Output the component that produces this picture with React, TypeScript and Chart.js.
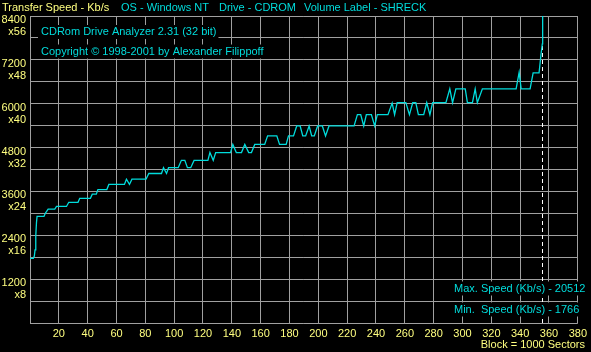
import React, { useEffect, useRef } from 'react';
import { Chart, registerables } from 'chart.js';

Chart.register(...registerables);

// ---- data ----
const blocks = [
  0, 2.3, 3.0, 3.5, 4.0, 4.5, 4.9, 9.7, 10.7, 12.6, 17.2, 18.4, 25.3, 26.9, 33.3, 34.5,
  41.9, 43.2, 46, 47.1, 53.3, 54.7, 65.5, 66.9, 69, 70.7, 80.5, 82.4, 91.2, 92.6, 94.7, 96.1,
  102.8, 105, 107.4, 109.2, 111.5, 113.8, 123.4, 124.8, 127.1, 128.8, 139.1, 140.7, 143.1, 146.7,
  149, 151.7, 153.6, 155.9, 162.8, 164.8, 171.2, 173.1, 177.7, 179.3, 182.8, 185, 187.4, 189.2,
  191.2, 193.6, 195.4, 197.2, 199.5, 202.8, 205, 207.4, 224.8, 227.1, 229.4, 231.5, 233.3, 236.8,
  239.1, 240.9, 248.3, 251.2, 252.9, 254.7, 260.7, 263.2, 265.5, 267.6, 269.4, 273.1, 275.2, 277.4,
  279.3, 288.5, 291.2, 293.1, 295.4, 301.9, 303.4, 306.9, 308.8, 310.3, 313.8, 337.2, 339.3, 340.7,
  346.9, 349, 353.1, 353.8, 354.6, 355.4, 355.6,
];
const speeds = [
  1766, 1766, 1830, 2000, 2380, 2750, 2917, 2917, 3009, 3118, 3118, 3189, 3189, 3303, 3303, 3412,
  3412, 3526, 3526, 3651, 3651, 3792, 3792, 3936, 3792, 3936, 3936, 4091, 4091, 4249, 4091, 4249,
  4249, 4450, 4450, 4249, 4249, 4450, 4450, 4662, 4450, 4662, 4662, 4885, 4662, 4662,
  4885, 4662, 4662, 4885, 4885, 5119, 5119, 4885, 4885, 5119, 5119, 5391, 5391, 5119,
  5119, 5391, 5119, 5119, 5391, 5391, 5119, 5391, 5391, 5701, 5701, 5391, 5701, 5701,
  5391, 5701, 5701, 6016, 5701, 6030, 6030, 5700, 6030, 6030, 5700, 5700, 6030, 5700,
  6030, 6030, 6407, 6030, 6407, 6407, 6030, 6030, 6407, 6030, 6407, 6407, 6858, 6407,
  6407, 6842, 6842, 7100, 7400, 7640, 20512,
];
const discEndBlock = 355.5;
const maxSpeed = 20512;
const minSpeed = 1766;
const xMin = 0;
const xMax = 380;
const xStep = 20;
const yMin = 0;
const yMax = 8400;
const yStep = 600;
const yLabelStep = 1200;
const speedPerX = 150;

const headerLabels = ['Transfer Speed - Kb/s', 'OS - Windows NT', 'Drive - CDROM', 'Volume Label - SHRECK'];
const titleLabels = ['CDRom Drive Analyzer 2.31 (32 bit)', 'Copyright \u00a9 1998-2001 by Alexander Filippoff'];
const maxLabel = `Max. Speed (Kb/s) - ${maxSpeed}`;
const minLabel = `Min.  Speed (Kb/s) - ${minSpeed}`;
const unitLabel = 'Block = 1000 Sectors';

// ---- styles ----
const W = 591;
const H = 352;
const CYAN = '#00dcdc';
const YELLOW = '#ffff80';
const GRID = '#a0a0a0';
const FONT_FAMILY = '"Liberation Sans", Arial, sans-serif';

const overlayPlugin = {
  id: 'overlayTexts',
  afterDraw(chart: any) {
    const ctx = chart.ctx as CanvasRenderingContext2D;
    ctx.save();
    ctx.font = `11px ${FONT_FAMILY}`;
    ctx.textBaseline = 'middle';
    ctx.textAlign = 'left';
    const put = (text: string, x: number, y: number, color: string, box: boolean) => {
      const w = ctx.measureText(text).width;
      if (box) {
        ctx.fillStyle = '#000';
        ctx.fillRect(x - 3, y - 7, w + 5, 14);
      }
      ctx.fillStyle = color;
      ctx.fillText(text, x, y);
    };
    const headerX = [2, 121, 219, 304];
    headerLabels.forEach((t, i) => put(t, headerX[i], 7.5, i === 0 ? YELLOW : CYAN, false));
    put(titleLabels[0], 41, 32, CYAN, true);
    put(titleLabels[1], 41, 51.5, CYAN, true);
    put(maxLabel, 454, 288.5, CYAN, true);
    put(minLabel, 454, 309.5, CYAN, true);
    ctx.textAlign = 'right';
    ctx.fillStyle = YELLOW;
    ctx.fillText(unitLabel, 585, 345);
    ctx.restore();
  },
};

export default function App() {
  const ref = useRef<HTMLCanvasElement | null>(null);

  useEffect(() => {
    if (!ref.current) return;
    Chart.defaults.font.family = FONT_FAMILY;
    Chart.defaults.font.size = 11;
    const chart = new Chart(ref.current, {
      type: 'line',
      data: {
        datasets: [
          {
            data: blocks.map((b, i) => ({ x: b, y: speeds[i] })),
            borderColor: CYAN,
            borderWidth: 1.3,
            pointRadius: 0,
            tension: 0,
            fill: false,
          },
          {
            data: [
              { x: discEndBlock, y: yMin },
              { x: discEndBlock, y: yMax },
            ],
            borderColor: '#ffffff',
            borderWidth: 1,
            borderDash: [4, 3],
            pointRadius: 0,
            fill: false,
          },
        ],
      },
      options: {
        animation: false,
        responsive: false,
        devicePixelRatio: 1,
        layout: { padding: { top: 15, right: 10, left: 0, bottom: 0 }, autoPadding: false },
        plugins: { legend: { display: false }, tooltip: { enabled: false } },
        scales: {
          x: {
            type: 'linear',
            min: xMin,
            max: xMax,
            afterFit: (s: any) => {
              s.height = 29;
            },
            grid: { color: GRID, drawTicks: false, lineWidth: 1 },
            border: { display: false },
            ticks: {
              stepSize: xStep,
              autoSkip: false,
              maxRotation: 0,
              color: YELLOW,
              padding: 4,
              font: { size: 11, family: FONT_FAMILY },
              callback: (v: any) => (v === 0 ? '' : String(v)),
            },
          },
          y: {
            type: 'linear',
            min: yMin,
            max: yMax,
            afterFit: (s: any) => {
              s.width = 30;
            },
            grid: { color: GRID, drawTicks: false, lineWidth: 1 },
            border: { display: false },
            ticks: {
              stepSize: yStep,
              autoSkip: false,
              color: YELLOW,
              padding: 4,
              labelOffset: 10,
              font: { size: 11, family: FONT_FAMILY, lineHeight: '12px' },
              callback: (v: any) =>
                v > 0 && v % yLabelStep === 0 ? [String(v), 'x' + v / speedPerX] : '',
            },
          },
        },
      },
      plugins: [overlayPlugin],
    } as any);
    return () => chart.destroy();
  }, []);

  return (
    <div style={{ position: 'fixed', left: 0, top: 0, width: W, height: H, background: '#000' }}>
      <canvas ref={ref} width={W} height={H} style={{ width: W, height: H, display: 'block' }} />
    </div>
  );
}
